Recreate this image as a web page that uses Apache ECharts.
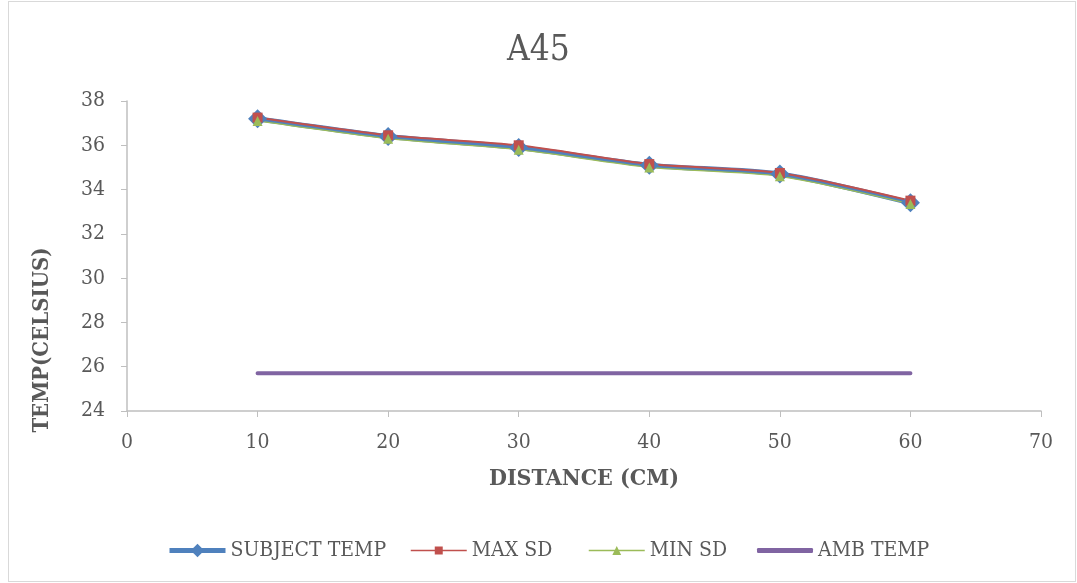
<!DOCTYPE html>
<html>
<head>
<meta charset="utf-8">
<script src="https://cdn.jsdelivr.net/npm/echarts@6/dist/echarts.min.js"></script>
<style>
  html, body { margin: 0; padding: 0; background: #fff; }
  #frame { position: absolute; left: 8px; top: 1px; width: 1068px; height: 581px; border: 1px solid #d9d9d9; box-sizing: border-box; }
  #chart { position: absolute; left: 0; top: 0; width: 1077px; height: 583px; }
</style>
</head>
<body>
<div id="frame"></div>
<div id="chart"></div>
<script>
// Distance from subject (cm)
const distances = [10, 20, 30, 40, 50, 60];
// Temperatures (°C)
const subjectTemp = [37.2, 36.4, 35.9, 35.1, 34.7, 33.4];
const maxSd = [37.25, 36.45, 36.0, 35.15, 34.75, 33.5];
const minSd = [37.1, 36.3, 35.8, 35.0, 34.6, 33.35];
const ambTemp = [25.7, 25.7, 25.7, 25.7, 25.7, 25.7];
const seriesNames = ['SUBJECT TEMP', 'MAX SD', 'MIN SD', 'AMB TEMP'];

const pairs = (ys) => distances.map((x, i) => [x, ys[i]]);

const FONT = '"DejaVu Serif Condensed", "DejaVu Serif", serif';
const TEXT = '#595959';
const AXIS = '#bfbfbf';
const COLORS = ['#4F81BD', '#C0504D', '#9BBB59', '#8064A2'];

// one legend block per series so each gets its own key size
function legendBlock(i, left, itemHeight, lineWidth, icon) {
  const item = { name: seriesNames[i] };
  if (icon) item.icon = icon;
  return {
    left: left,
    top: 540,
    padding: 0,
    itemWidth: 56,
    itemHeight: itemHeight,
    itemGap: 6,
    lineStyle: { width: lineWidth, color: COLORS[i] },
    textStyle: { fontFamily: FONT, fontSize: 21, color: TEXT, padding: [0, 0, 0, 0] },
    data: [item]
  };
}

const chart = echarts.init(document.getElementById('chart'), null, { renderer: 'canvas' });
chart.setOption({
  backgroundColor: 'transparent',
  animation: false,
  title: {
    text: 'A45',
    left: 'center',
    top: 28,
    textStyle: { fontFamily: FONT, fontSize: 35, fontWeight: 'normal', color: TEXT }
  },
  grid: { left: 127, right: 36, top: 101, bottom: 172 },
  legend: [
    legendBlock(0, 167, 17, 5),
    legendBlock(1, 410, 10, 1.5),
    legendBlock(2, 588, 11, 1.5),
    legendBlock(3, 757, 5, 5, 'roundRect')
  ],
  graphic: [{
    type: 'text',
    x: 42,
    y: 340,
    rotation: Math.PI / 2,
    style: {
      text: 'TEMP(CELSIUS)',
      fontFamily: FONT,
      fontSize: 22,
      fontWeight: 'bold',
      fill: TEXT,
      align: 'center',
      verticalAlign: 'middle'
    }
  }],
  xAxis: {
    type: 'value',
    min: 0, max: 70, interval: 10,
    name: 'DISTANCE (CM)',
    nameLocation: 'middle',
    nameGap: 57,
    nameTextStyle: { fontFamily: FONT, fontSize: 23, fontWeight: 'bold', color: TEXT },
    axisLine: { show: true, lineStyle: { color: AXIS, width: 1.5 } },
    axisTick: { show: true, length: 6, lineStyle: { color: AXIS } },
    axisLabel: { fontFamily: FONT, fontSize: 21, color: TEXT, margin: 21 },
    splitLine: { show: false }
  },
  yAxis: {
    type: 'value',
    min: 24, max: 38, interval: 2,
    axisLine: { show: true, lineStyle: { color: AXIS, width: 1.5 } },
    axisTick: { show: true, length: 6, lineStyle: { color: AXIS } },
    axisLabel: { fontFamily: FONT, fontSize: 21, color: TEXT, margin: 22 },
    splitLine: { show: false }
  },
  series: [
    {
      name: seriesNames[0], type: 'line', data: pairs(subjectTemp), smooth: 0.25,
      symbol: 'diamond', symbolSize: 19,
      itemStyle: { color: COLORS[0] },
      lineStyle: { color: COLORS[0], width: 5 }
    },
    {
      name: seriesNames[1], type: 'line', data: pairs(maxSd), smooth: 0.25,
      symbol: 'rect', symbolSize: 10,
      itemStyle: { color: COLORS[1] },
      lineStyle: { color: COLORS[1], width: 2 }
    },
    {
      name: seriesNames[2], type: 'line', data: pairs(minSd), smooth: 0.25,
      symbol: 'triangle', symbolSize: 10,
      itemStyle: { color: COLORS[2] },
      lineStyle: { color: COLORS[2], width: 1.2 }
    },
    {
      name: seriesNames[3], type: 'line', data: pairs(ambTemp),
      symbol: 'none', showSymbol: false,
      itemStyle: { color: COLORS[3] },
      lineStyle: { color: COLORS[3], width: 4, cap: 'round' }
    }
  ]
});
</script>
</body>
</html>
